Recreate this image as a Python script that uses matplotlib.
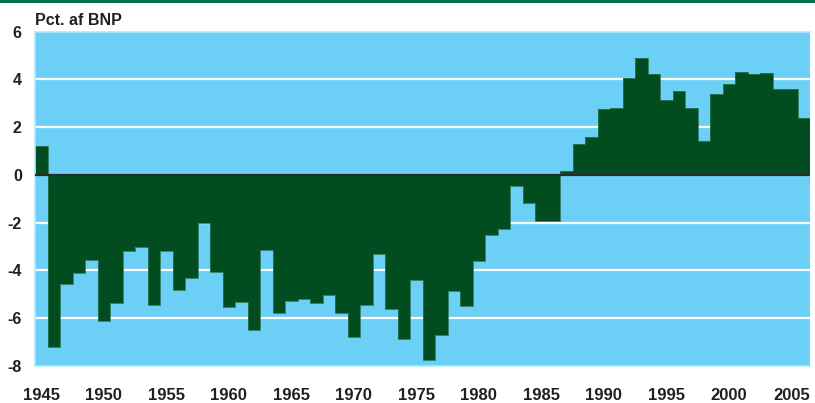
import matplotlib
matplotlib.use("Agg")
import matplotlib.pyplot as plt
from matplotlib.patches import Rectangle
from matplotlib import font_manager

# Betalingsbalancens løbende poster, pct. af BNP
years = list(range(1945, 2007))
values = [
    1.2, -7.2, -4.55, -4.1, -3.55, -6.1, -5.35, -3.2, -3.0, -5.45,
    -3.2, -4.83, -4.3, -2.0, -4.07, -5.55, -5.33, -6.5, -3.13, -5.77,
    -5.27, -5.21, -5.35, -5.01, -5.76, -6.78, -5.43, -3.3, -5.62, -6.85,
    -4.38, -7.76, -6.7, -4.86, -5.49, -3.6, -2.52, -2.28, -0.45, -1.16,
    -1.94, -1.94, 0.16, 1.31, 1.61, 2.76, 2.8, 4.06, 4.9, 4.23,
    3.15, 3.51, 2.79, 1.44, 3.39, 3.81, 4.31, 4.22, 4.26, 3.58,
    3.6, 2.38,
]
xticks = [1945, 1950, 1955, 1960, 1965, 1970, 1975, 1980, 1985, 1990, 1995, 2000, 2005]
yticks = [-8, -6, -4, -2, 0, 2, 4, 6]
title = "Pct. af BNP"

names = {f.name for f in font_manager.fontManager.ttflist}
font = "Liberation Sans Narrow" if "Liberation Sans Narrow" in names else "Liberation Sans"
plt.rcParams["font.family"] = font
plt.rcParams["font.weight"] = "bold"

bg = "#6ccff5"
bar_color = "#024d1f"
text_color = "#231f20"
pale = "#b5e6fa"

fig = plt.figure(figsize=(8.15, 4.03), dpi=100)
ax = fig.add_axes([35 / 815, 1 - 366 / 403, 775 / 815, (366 - 31.7) / 403])
ax.set_facecolor(bg)

for y in [-6, -4, -2, 2, 4]:
    ax.axhline(y, color="white", lw=1.6, zorder=1)

ax.bar(years, values, width=1.0, color=bar_color, linewidth=0, zorder=2)
edges = [y - 0.5 for y in years] + [years[-1] + 0.5]
ax.stairs(values, edges, baseline=0, color="#2a7656", lw=0.6, zorder=2.5)
ax.axhline(0, color="#2b2b2b", lw=1.6, zorder=3)

ax.set_xlim(1944.5, 2006.5)
ax.set_ylim(-8, 6)
ax.set_xticks(xticks)
ax.set_xticklabels([str(t) for t in xticks], fontsize=12, color=text_color,
                   fontweight="bold")
ax.set_yticks(yticks)
ax.set_yticklabels([str(t) for t in yticks], fontsize=11.5, color=text_color,
                   fontweight="bold")
ax.tick_params(axis="x", length=0, pad=15.5)
ax.tick_params(axis="y", length=0, pad=9.5)
for side, s in ax.spines.items():
    if side == "right":
        s.set_visible(False)
    else:
        s.set_color(pale)
        s.set_linewidth(1.2)

fig.text(35 / 815, 1 - 25 / 403, title, fontsize=11.5, fontweight="bold",
         color=text_color, ha="left", va="baseline")

# green band at the very top of the figure
fig.patches.append(Rectangle((0, 1 - 3 / 403), 1, 3 / 403, transform=fig.transFigure,
                             facecolor="#00704a", edgecolor="none"))

fig.savefig("out.png", dpi=100)
